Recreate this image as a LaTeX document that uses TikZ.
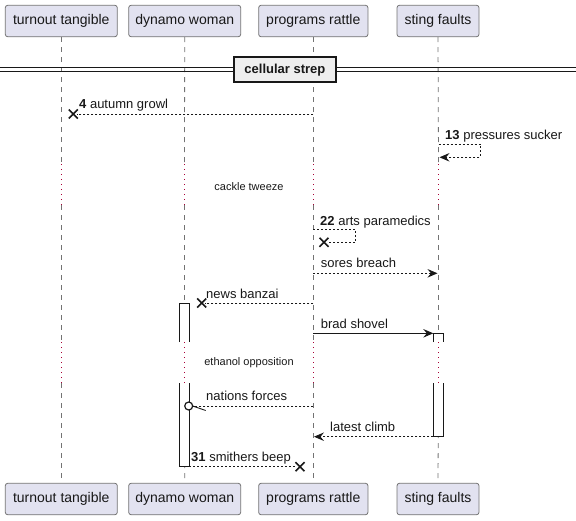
\documentclass[tikz,border=0pt]{standalone}
\usepackage{fontspec}
\setmainfont{Liberation Sans}
\usetikzlibrary{arrows.meta}
\definecolor{partfill}{HTML}{E2E2F0}
\definecolor{ink}{HTML}{181818}
\definecolor{delayred}{HTML}{A80036}
\definecolor{divfill}{HTML}{EEEEEE}
\tikzset{
  partbox/.style={draw=black!55, line width=0.8pt, fill=partfill, rounded corners=2.5pt,
    minimum height=31.5pt, inner sep=0pt, font=\fontsize{14}{16}\selectfont, text=ink},
  lifeln/.style={draw=black!55, line width=0.8pt, dash pattern=on 5pt off 5pt},
  delayln/.style={draw=delayred, line width=1pt, dash pattern=on 1pt off 4pt},
  msgdash/.style={draw=ink, line width=0.9pt, dash pattern=on 2pt off 2pt},
  msgsolid/.style={draw=ink, line width=0.9pt},
  tipped/.style={-{Stealth[length=10pt,width=8.5pt,inset=3.5pt]}},
  msglabel/.style={anchor=base west, inner sep=0pt, font=\fontsize{13}{15}\selectfont, text=ink},
  delaylabel/.style={inner sep=0pt, font=\fontsize{11}{13}\selectfont, text=ink},
  actbox/.style={fill=white, draw=none},
  actedge/.style={draw=ink, line width=0.9pt},
  xcross/.pic={\draw[ink, line width=1.6pt] (-4.5,-4.5)--(4.5,4.5) (-4.5,4.5)--(4.5,-4.5);}
}
\begin{document}
\begin{tikzpicture}[x=1pt,y=-1pt]
\useasboundingbox (0,0) rectangle (576,520);
% participants
\node[partbox, minimum width=112pt] (tTop) at (61.3,21) {turnout tangible};
\node[partbox, minimum width=112pt] (dTop) at (184.7,21) {dynamo woman};
\node[partbox, minimum width=109.3pt] (pTop) at (313.3,21) {programs rattle};
\node[partbox, minimum width=82pt] (sTop) at (438,21) {sting faults};
\node[partbox, minimum width=112pt] (tBot) at (61.3,499) {turnout tangible};
\node[partbox, minimum width=112pt] (dBot) at (184.7,499) {dynamo woman};
\node[partbox, minimum width=109.3pt] (pBot) at (313.3,499) {programs rattle};
\node[partbox, minimum width=82pt] (sBot) at (438,499) {sting faults};
% lifelines
\foreach \p/\x in {t/61.3,d/184.5,p/313.3,s/438.5}{
  \coordinate (\p a) at (\x,164);
  \coordinate (\p b) at (\x,205);
  \coordinate (\p c) at (\x,342);
  \coordinate (\p d) at (\x,383);
  \draw[lifeln] (\p Top.south) -- (\p a);
  \draw[delayln] (\p a) -- (\p b);
  \draw[lifeln] (\p b) -- (\p c);
  \draw[delayln] (\p c) -- (\p d);
  \draw[lifeln] (\p d) -- (\p Bot.north);
}
% divider
\coordinate (divL1) at (0,67.7); \coordinate (divR1) at (576,67.7);
\coordinate (divL2) at (0,71.2); \coordinate (divR2) at (576,71.2);
\draw[ink, line width=1pt] (divL1) -- (divR1);
\draw[ink, line width=1pt] (divL2) -- (divR2);
\node[draw=ink, line width=1.8pt, fill=divfill, minimum width=101.7pt, minimum height=24.7pt,
  inner sep=0pt, font=\bfseries\fontsize{13}{15}\selectfont, text=ink] (div) at (284.9,69.7) {cellular strep};
% activations (white fills)
\fill[actbox] (179.3,303) rectangle (189.3,342);
\fill[actbox] (179.3,383) rectangle (189.3,466.7);
\fill[actbox] (433.3,333.3) rectangle (443.7,342);
\fill[actbox] (433.3,383) rectangle (443.7,436.7);
\draw[actedge] (179.3,342) -- (179.3,303) -- (189.3,303) -- (189.3,342);
\draw[actedge] (179.3,383) -- (179.3,466.7) -- (189.3,466.7) -- (189.3,383);
\draw[actedge] (433.3,342) -- (433.3,333.3) -- (443.7,333.3) -- (443.7,342);
\draw[actedge] (433.3,383) -- (433.3,436.7) -- (443.7,436.7) -- (443.7,383);
% msg 4
\coordinate (m4s) at (313.3,114); \coordinate (m4e) at (77,114);
\draw[msgdash] (m4s) -- (m4e);
\pic at (73.3,114) {xcross};
\node[msglabel] (m4l) at (79,108.3) {\textbf{4} autumn growl};
% msg 13
\coordinate (m13a) at (438.5,144); \coordinate (m13b) at (480.3,144);
\coordinate (m13c) at (480.3,157.3); \coordinate (m13d) at (439.5,157.3);
\draw[msgdash, tipped] (m13a) -- (m13b) -- (m13c) -- (m13d);
\node[msglabel] (m13l) at (445,139.3) {\textbf{13} pressures sucker};
% delay 1
\node[delaylabel] (d1) at (249,187) {cackle tweeze};
% msg 22
\coordinate (m22a) at (313.3,229.3); \coordinate (m22b) at (355.7,229.3);
\coordinate (m22c) at (355.7,242.3); \coordinate (m22d) at (328,242.3);
\draw[msgdash] (m22a) -- (m22b) -- (m22c) -- (m22d);
\pic at (324,242.3) {xcross};
\node[msglabel] (m22l) at (320,225) {\textbf{22} arts paramedics};
% sores breach
\coordinate (m5s) at (313.3,273.3); \coordinate (m5e) at (437.5,273.3);
\draw[msgdash, tipped] (m5s) -- (m5e);
\node[msglabel] (m5l) at (320.7,267.7) {sores breach};
% news banzai
\coordinate (m6s) at (313.3,303); \coordinate (m6e) at (205,303);
\draw[msgdash] (m6s) -- (m6e);
\pic at (201.7,303) {xcross};
\node[msglabel] (m6l) at (206,298) {news banzai};
% brad shovel
\coordinate (m7s) at (313.3,333.3); \coordinate (m7e) at (433.3,333.3);
\draw[msgsolid, tipped] (m7s) -- (m7e);
\node[msglabel] (m7l) at (320.7,328) {brad shovel};
% delay 2
\node[delaylabel] (d2) at (249,363) {ethanol opposition};
% nations forces
\coordinate (m8s) at (313.3,406); \coordinate (m8e) at (192.7,406);
\coordinate (m8h) at (205.7,410.5);
\draw[msgdash] (m8s) -- (m8e);
\draw[ink, line width=0.9pt] (m8e) -- (m8h);
\draw[ink, line width=1.2pt, fill=white] (188.7,406) circle (4);
\node[msglabel] (m8l) at (206,400.7) {nations forces};
% latest climb
\coordinate (m9s) at (433.3,436.7); \coordinate (m9e) at (314,436.7);
\draw[msgdash, tipped] (m9s) -- (m9e);
\node[msglabel] (m9l) at (330,431.7) {latest climb};
% smithers beep
\coordinate (m10s) at (189.3,466.7); \coordinate (m10e) at (296.5,466.7);
\draw[msgdash] (m10s) -- (m10e);
\pic at (300,466.7) {xcross};
\node[msglabel] (m10l) at (191,461.7) {\textbf{31} smithers beep};
\end{tikzpicture}
\end{document}
